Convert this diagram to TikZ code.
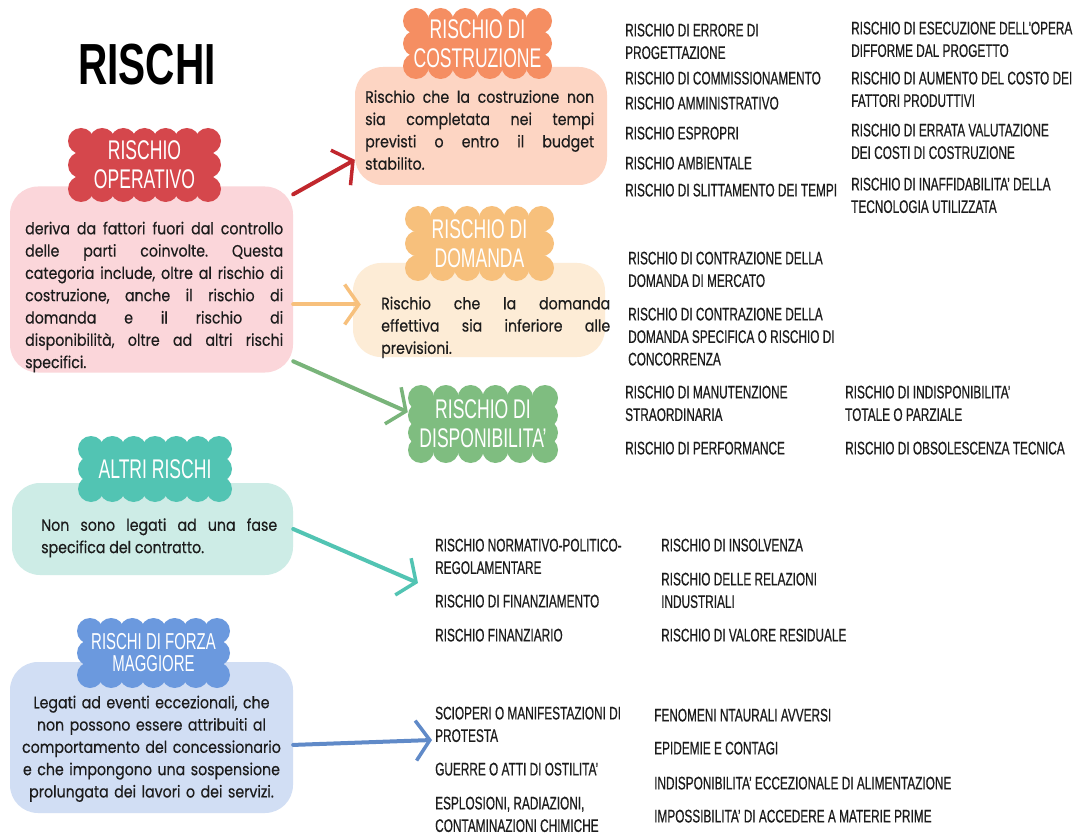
\documentclass[tikz,border=0pt]{standalone}
\usepackage{fontspec}
\setmainfont{Poppins}
\newfontfamily\bodyfont[FakeStretch=0.86,FakeBold=0.4]{Poppins}
\newfontfamily\riskfont[FakeStretch=0.65,FakeBold=0.5]{Liberation Sans}
\newfontfamily\pufffont[FakeStretch=0.65]{Liberation Sans}
\newfontfamily\headfont[FakeStretch=0.7]{Liberation Sans}
\usetikzlibrary{arrows.meta}

\definecolor{opred}{HTML}{D5474C}
\definecolor{opback}{HTML}{FBD6DA}
\definecolor{linkred}{HTML}{C1272D}
\definecolor{cosorange}{HTML}{F58E62}
\definecolor{cosback}{HTML}{FDD5C3}
\definecolor{domyellow}{HTML}{F7C07C}
\definecolor{domback}{HTML}{FDECD6}
\definecolor{dispgreen}{HTML}{7FBD80}
\definecolor{altteal}{HTML}{52C4B3}
\definecolor{altback}{HTML}{CDECE6}
\definecolor{forblue}{HTML}{6B99DE}
\definecolor{forback}{HTML}{D1DEF4}
\definecolor{inkdark}{HTML}{1C1C1C}

\tikzset{
  card/.style={rounded corners=28pt, inner sep=0pt},
  cloudtxt/.style={text=white, align=center, inner sep=0pt,
    font=\pufffont\fontsize{27}{29}\selectfont},
  bodytxt/.style={text=inkdark, align=justify, inner sep=0pt, anchor=north west,
    font=\bodyfont\fontsize{16.5}{22.3}\selectfont\frenchspacing},
  risk/.style={text=inkdark, align=left, inner sep=0pt, anchor=north west,
    font=\riskfont\fontsize{18.2}{22.5}\selectfont},
  link/.style={line width=4pt, line cap=round,
    -{Straight Barb[length=14pt,width=40pt,line width=3.5pt]}}
}

% scalloped label: name, colour, x0, y0, x1, y1, text
\newcommand{\puffcloud}[7]{%
  \pgfmathsetmacro{\pxa}{#3+13}\pgfmathsetmacro{\pxb}{#5-13}%
  \pgfmathsetmacro{\pya}{#4+13}\pgfmathsetmacro{\pyb}{#6-13}%
  \pgfmathtruncatemacro{\pnx}{max(2,round((\pxb-\pxa)/23))}%
  \pgfmathtruncatemacro{\pny}{max(2,round((\pyb-\pya)/20))}%
  \pgfmathtruncatemacro{\pnyy}{\pny-1}%
  \fill[#2] (\pxa,\pya) rectangle (\pxb,\pyb);
  \foreach \k in {0,...,\pnx}{
    \fill[#2] ({\pxa+\k*(\pxb-\pxa)/\pnx},\pya) circle[radius=13pt];
    \fill[#2] ({\pxa+\k*(\pxb-\pxa)/\pnx},\pyb) circle[radius=13pt];
  }
  \foreach \k in {1,...,\pnyy}{
    \fill[#2] (\pxa,{\pya+\k*(\pyb-\pya)/\pny}) circle[radius=13pt];
    \fill[#2] (\pxb,{\pya+\k*(\pyb-\pya)/\pny}) circle[radius=13pt];
  }
  \node[cloudtxt, minimum width={#5-#3}, minimum height={#6-#4}] (#1)
    at ({(#3+#5)/2},{(#4+#6)/2}) {#7};
}
\newcommand{\smallpuff}{\fontsize{23}{20}\selectfont}

\begin{document}
\begin{tikzpicture}[x=1pt,y=-1pt]
\useasboundingbox[fill=white] (0,0) rectangle (1073,834);

\node[anchor=west, inner sep=0pt, text=black, font=\headfont\bfseries\fontsize{58}{60}\selectfont] (title) at (78,65) {RISCHI};

% cards
\node[card, fill=opback, minimum width=283, minimum height=186] (opbox) at (151.5,279.5) {};
\node[card, fill=cosback, minimum width=252, minimum height=118] (cosbox) at (481,126) {};
\node[card, fill=domback, minimum width=252, minimum height=94] (dombox) at (479,310) {};
\node[card, fill=altback, minimum width=281, minimum height=92] (altbox) at (152.5,529) {};
\node[card, fill=forback, minimum width=283, minimum height=151] (forbox) at (151.5,737.5) {};

\puffcloud{opcloud}{opred}{68}{128}{221}{202}{RISCHIO\\OPERATIVO}
\puffcloud{coscloud}{cosorange}{403}{8}{552}{79}{RISCHIO DI\\COSTRUZIONE}
\puffcloud{domcloud}{domyellow}{405}{206}{554}{281}{RISCHIO DI\\DOMANDA}
\puffcloud{dispcloud}{dispgreen}{408}{385}{558}{463}{RISCHIO DI\\DISPONIBILITA’}
\puffcloud{altcloud}{altteal}{78}{436}{232}{502}{ALTRI RISCHI}
\puffcloud{forcloud}{forblue}{77}{618}{230}{688}{\smallpuff RISCHI DI FORZA\\[-7pt]\smallpuff MAGGIORE}

\node[bodytxt, text width=258] (optxt) at (25,221.5) {deriva da fattori fuori dal controllo\linebreak delle parti coinvolte. Questa\linebreak categoria include, oltre al rischio di\linebreak costruzione, anche il rischio di\linebreak domanda e il rischio di\linebreak disponibilità, oltre ad altri rischi\linebreak specifici.};
\node[bodytxt, text width=229] (costxt) at (365,90) {Rischio che la costruzione non\linebreak sia completata nei tempi\linebreak previsti o entro il budget\linebreak stabilito.};
\node[bodytxt, text width=229] (domtxt) at (381,296.5) {Rischio che la domanda\linebreak effettiva sia inferiore alle\linebreak previsioni.};
\node[bodytxt, text width=236] (alttxt) at (41,518) {Non sono legati ad una fase\linebreak specifica del contratto.};
\node[bodytxt, align=center, text width=300, anchor=north] (fortxt) at (151.5,695.5) {Legati ad eventi eccezionali, che\\ non possono essere attribuiti al\\ comportamento del concessionario\\ e che impongono una sospensione\\ prolungata dei lavori o dei servizi.};

% arrows
\coordinate (altend) at (418,583);
\coordinate (forend) at (432,740);
\draw[link, draw=linkred] (opbox.31) -- (cosbox.195);
\draw[link, draw=domyellow, shorten >=-8pt] (opbox.-10) -- (opbox.-10 -| dombox.west);
\draw[link, draw=dispgreen!95!black] (opbox.-30) -- (dispcloud.171);
\draw[link, draw=altteal] (altbox.east) -- (altend);
\draw[link, draw=forblue!90!black] (forbox.-3) -- (forend);

% costruzione
\node[risk] (c1) at (625,23.5) {RISCHIO DI ERRORE DI\\PROGETTAZIONE};
\node[risk] (c2) at (625,71.5) {RISCHIO DI COMMISSIONAMENTO};
\node[risk] (c3) at (625,96.5) {RISCHIO AMMINISTRATIVO};
\node[risk] (c4) at (625,126.5) {RISCHIO ESPROPRI};
\node[risk] (c5) at (625,156.5) {RISCHIO AMBIENTALE};
\node[risk] (c6) at (625,183.5) {RISCHIO DI SLITTAMENTO DEI TEMPI};
\node[risk] (c7) at (851,21.5) {RISCHIO DI ESECUZIONE DELL'OPERA\\DIFFORME DAL PROGETTO};
\node[risk] (c8) at (851,71.5) {RISCHIO DI AUMENTO DEL COSTO DEI\\FATTORI PRODUTTIVI};
\node[risk] (c9) at (851,123.5) {RISCHIO DI ERRATA VALUTAZIONE\\DEI COSTI DI COSTRUZIONE};
\node[risk] (c10) at (851,177.5) {RISCHIO DI INAFFIDABILITA’ DELLA\\TECNOLOGIA UTILIZZATA};

% domanda
\node[risk] (d1) at (628,251.5) {RISCHIO DI CONTRAZIONE DELLA\\DOMANDA DI MERCATO};
\node[risk] (d2) at (628,307.5) {RISCHIO DI CONTRAZIONE DELLA\\DOMANDA SPECIFICA O RISCHIO DI\\CONCORRENZA};

% disponibilita
\node[risk] (p1) at (625,385.5) {RISCHIO DI MANUTENZIONE\\STRAORDINARIA};
\node[risk] (p2) at (625,441.5) {RISCHIO DI PERFORMANCE};
\node[risk] (p3) at (845,385.5) {RISCHIO DI INDISPONIBILITA’\\TOTALE O PARZIALE};
\node[risk] (p4) at (845,441.5) {RISCHIO DI OBSOLESCENZA TECNICA};

% altri
\node[risk] (a1) at (435,538.5) {RISCHIO NORMATIVO-POLITICO-\\REGOLAMENTARE};
\node[risk] (a2) at (435,594.5) {RISCHIO DI FINANZIAMENTO};
\node[risk] (a3) at (435,628.5) {RISCHIO FINANZIARIO};
\node[risk] (a4) at (661,538.5) {RISCHIO DI INSOLVENZA};
\node[risk] (a5) at (661,572.5) {RISCHIO DELLE RELAZIONI\\INDUSTRIALI};
\node[risk] (a6) at (661,628.5) {RISCHIO DI VALORE RESIDUALE};

% forza maggiore
\node[risk] (f1) at (435,706.5) {SCIOPERI O MANIFESTAZIONI DI\\PROTESTA};
\node[risk] (f2) at (435,762.5) {GUERRE O ATTI DI OSTILITA’};
\node[risk] (f3) at (435,796.5) {ESPLOSIONI, RADIAZIONI,\\CONTAMINAZIONI CHIMICHE};
\node[risk] (f4) at (654,708.5) {FENOMENI NTAURALI AVVERSI};
\node[risk] (f5) at (654,741.5) {EPIDEMIE E CONTAGI};
\node[risk] (f6) at (654,776.5) {INDISPONIBILITA’ ECCEZIONALE DI ALIMENTAZIONE};
\node[risk] (f7) at (654,809.5) {IMPOSSIBILITA’ DI ACCEDERE A MATERIE PRIME};
\end{tikzpicture}
\end{document}
